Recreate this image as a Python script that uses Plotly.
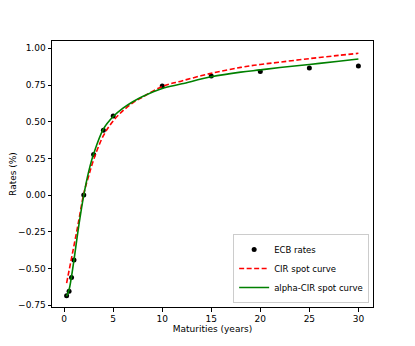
import plotly.graph_objects as go

# ECB observed rates
ecb_maturities = [0.25, 0.5, 0.75, 1, 2, 3, 4, 5, 10, 15, 20, 25, 30]
ecb_rates = [-0.686, -0.655, -0.562, -0.443, 0.0, 0.277, 0.441, 0.539, 0.744, 0.812, 0.842, 0.866, 0.879]

# Model curves
curve_maturities = [0.25, 0.5, 0.75, 1, 1.5, 2, 2.5, 3, 4, 5, 6, 7, 8, 10, 12, 15, 18, 20, 22, 25, 28, 30]
cir_curve = [-0.60, -0.515, -0.43, -0.345, -0.17, 0.01, 0.13, 0.24, 0.405, 0.505, 0.575, 0.628, 0.668, 0.740, 0.778, 0.830, 0.870, 0.890, 0.906, 0.930, 0.952, 0.966]
alpha_cir_curve = [-0.69, -0.645, -0.555, -0.443, -0.205, 0.0, 0.16, 0.28, 0.45, 0.535, 0.592, 0.636, 0.672, 0.727, 0.758, 0.806, 0.838, 0.853, 0.869, 0.890, 0.912, 0.927]

fig = go.Figure()
fig.add_trace(go.Scatter(
    x=ecb_maturities, y=ecb_rates, mode="markers", name="ECB rates",
    marker=dict(color="black", size=5)))
fig.add_trace(go.Scatter(
    x=curve_maturities, y=cir_curve, mode="lines", name="CIR spot curve",
    line=dict(color="red", dash="5px,2.5px", width=1.6, shape="spline")))
fig.add_trace(go.Scatter(
    x=curve_maturities, y=alpha_cir_curve, mode="lines", name="alpha-CIR spot curve",
    line=dict(color="green", width=1.6, shape="spline")))

axis_common = dict(
    showline=True, linecolor="black", linewidth=1, mirror=True,
    ticks="outside", ticklen=3.5, tickcolor="black", showgrid=False, zeroline=False,
    tickfont=dict(family="DejaVu Sans", size=9, color="black"),
    automargin=False,
)

fig.update_layout(
    width=415, height=346,
    margin=dict(l=44, r=50, t=33, b=47, autoexpand=False),
    paper_bgcolor="white", plot_bgcolor="white",
    font=dict(family="DejaVu Sans", size=9, color="black"),
    showlegend=True,
    legend=dict(x=0.988, y=0.015, xanchor="right", yanchor="bottom",
                bgcolor="rgba(255,255,255,0.8)", bordercolor="#cccccc", borderwidth=1,
                font=dict(family="DejaVu Sans", size=8.5), tracegroupgap=0,
                itemwidth=30),
    xaxis=dict(range=[-1.24, 31.49], tickvals=[0, 5, 10, 15, 20, 25, 30],
               title=dict(text="Maturities (years)", font=dict(size=9), standoff=0),
               **axis_common),
    yaxis=dict(range=[-0.763, 1.05], tickvals=[-0.75, -0.5, -0.25, 0, 0.25, 0.5, 0.75, 1.0],
               tickformat=".2f",
               title=dict(text="Rates (%)", font=dict(size=9), standoff=2),
               **axis_common),
)

fig.write_html("out.html")
